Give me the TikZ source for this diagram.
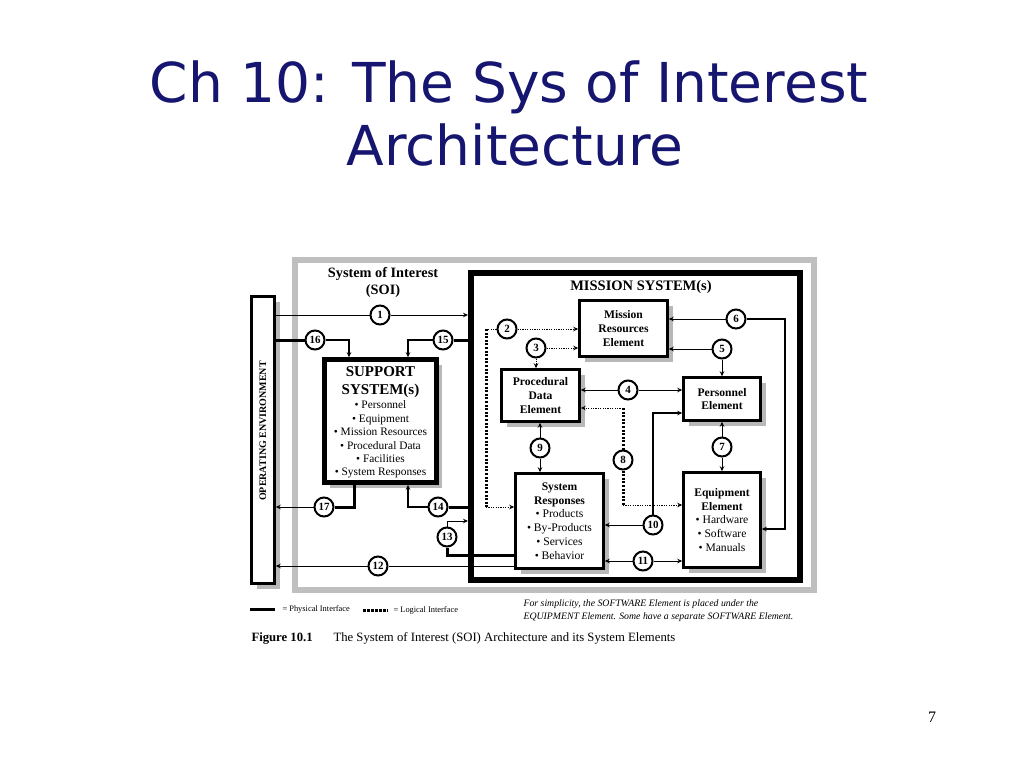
\documentclass[tikz,border=0pt]{standalone}
\usepackage{fontspec}
\setmainfont{Liberation Serif}
\newfontfamily\titlefont{DejaVu Sans}
\usetikzlibrary{arrows.meta,shadows}
\definecolor{navy}{RGB}{22,22,112}

\tikzset{
  elem/.style={draw, line width=2.5pt, fill=white, align=center, inner sep=0pt,
    font=\fontsize{11.6}{13.7}\selectfont,
    drop shadow={shadow xshift=5pt, shadow yshift=-5pt, fill=black!28, opacity=1}},
  num/.style={circle, draw, line width=2pt, fill=white, inner sep=0pt,
    minimum size=19pt, font=\fontsize{11}{12}\selectfont\bfseries},
  conn/.style={line width=0.9pt},
  medium/.style={line width=2.3pt},
  phys/.style={line width=3pt},
  logic/.style={line width=1pt, dash pattern=on 1.2pt off 1.2pt},
  logicheavy/.style={line width=3pt, dash pattern=on 2pt off 1.6pt},
}

\begin{document}
\begin{tikzpicture}[x=1pt, y=-1pt, >={Stealth[length=5pt,width=4.5pt]}]
\useasboundingbox[fill=white] (0,0) rectangle (1024,768);

% title
\node[anchor=base, text=navy, font=\titlefont\fontsize{55}{60}\selectfont] at (509,102) {Ch 10: The Sys of Interest};
\node[anchor=base, text=navy, font=\titlefont\fontsize{55}{60}\selectfont] at (515,165) {Architecture};

% frames
\draw[black!25, line width=6pt] (295,260) rectangle (814,590);
\node[elem, minimum width=23pt, minimum height=287pt] (oe) at (263,440) {};
\node[rotate=90, font=\fontsize{10}{12}\selectfont\bfseries] at (263,431) {OPERATING ENVIRONMENT};
\node[draw, line width=6pt, inner sep=0pt, minimum width=329pt, minimum height=307pt] (mission) at (635.5,426.5) {};
\node[font=\fontsize{14.5}{16}\selectfont\bfseries] at (641,287) {MISSION SYSTEM(s)};
\node[align=center, font=\fontsize{14.3}{17}\selectfont\bfseries] at (383,282) {System of Interest\\(SOI)};

% boxes
\node[elem, line width=4.5pt, minimum width=112pt, minimum height=123pt] (support) at (380.5,421) {};
\node[align=center, font=\fontsize{11.4}{13.4}\selectfont] (supporttext) at (380.5,422.5)
  {{\fontsize{15}{15}\selectfont\bfseries SUPPORT}\\[4.3pt]{\fontsize{15}{15}\selectfont\bfseries SYSTEM(s)}\\[1.3pt]
   \textbullet\ Personnel\\\textbullet\ Equipment\\\textbullet\ Mission Resources\\\textbullet\ Procedural Data\\
   \textbullet\ Facilities\\\textbullet\ System Responses};
\node[elem, minimum width=88pt, minimum height=56pt] (mres) at (623.5,328.5) {\bfseries Mission\\\bfseries Resources\\\bfseries Element};
\node[elem, minimum width=78pt, minimum height=52pt] (proc) at (540.5,395.5) {\bfseries Procedural\\\bfseries Data\\\bfseries Element};
\node[elem, minimum width=77pt, minimum height=43pt] (pers) at (722,399) {\bfseries Personnel\\\bfseries Element};
\node[elem, minimum width=88pt, minimum height=95pt] (resp) at (559.5,521)
  {\bfseries System\\\bfseries Responses\\\textbullet\ Products\\\textbullet\ By-Products\\\textbullet\ Services\\\textbullet\ Behavior};
\node[elem, minimum width=77pt, minimum height=95pt] (equip) at (722,520)
  {\bfseries Equipment\\\bfseries Element\\\textbullet\ Hardware\\\textbullet\ Software\\\textbullet\ Manuals};

% numbered interfaces
\foreach \i/\x/\y in {1/380/315, 16/315/340, 15/443/340, 17/324/507, 14/438/507, 13/447/537, 12/378/566,
  2/507/329, 3/536/348, 4/628/390, 5/722/349, 6/736/319, 7/722/447, 8/623/460, 9/540/448, 10/653/525, 11/643/561}
{
    \node[num] (n\i) at (\x,\y) {\i};
}
\coordinate (c2a) at (486,329);
\coordinate (c2b) at (486,507);
\coordinate (c6) at (785,319);
\coordinate (c8a) at (623,408);
\coordinate (c8b) at (623,505);

% SOI level
\draw[conn,->] (oe.east |- n1) -- (n1) -- (mission.west |- n1);
\draw[phys] (oe.east |- n16) -- (n16);
\draw[medium,->] (n16) -| (349,0 |- support.north);
\draw[phys] (mission.west |- n15) -- (n15);
\draw[medium,->] (n15) -| (408,0 |- support.north);
\draw[phys] (354,0 |- support.south) |- (n17);
\draw[conn,->] (n17) -- (oe.east |- n17);
\draw[phys] (mission.west |- n14) -- (n14);
\draw[medium,->] (n14) -| (408,0 |- support.south);
\draw[conn,->] (n13) |- (mission.west |- 0,521);
\draw[phys] (n13) |- (resp.west |- 0,555);
\draw[conn,->] (resp.west |- n12) -- (n12) -- (oe.east |- n12);

% mission level
\draw[logic,->] (n2) -- (mres.west |- n2);
\draw[logic] (n2) -- (c2a);
\draw[logicheavy] (c2a) -- (c2b);
\draw[logic,->] (c2b) -- (resp.west |- c2b);
\draw[logic,->] (n3) -- (mres.west |- n3);
\draw[logic,->] (n3) -- (proc.north -| n3);
\draw[conn,->] (n4) -- (proc.east |- n4);
\draw[conn,->] (n4) -- (pers.west |- n4);
\draw[conn,->] (n5) -- (mres.east |- n5);
\draw[conn,->] (n5) -- (pers.north -| n5);
\draw[conn,->] (n6) -- (mres.east |- n6);
\draw[medium,->] (n6) -- (c6) |- (equip.east |- 0,529);
\draw[conn,->] (n7) -- (pers.south -| n7);
\draw[conn,->] (n7) -- (equip.north -| n7);
\draw[logic,->] (c8a) -- (proc.east |- c8a);
\draw[logicheavy] (c8a) -- (n8) -- (c8b);
\draw[logic,->] (c8b) -- (equip.west |- c8b);
\draw[conn,->] (n9) -- (proc.south -| n9);
\draw[conn,->] (n9) -- (resp.north -| n9);
\draw[conn,->] (n10) -- (resp.east |- n10);
\draw[medium,->] (n10) |- (pers.west |- 0,413);
\draw[conn,->] (n11) -- (resp.east |- n11);
\draw[conn,->] (n11) -- (equip.west |- n11);

% legend and caption
\draw[phys] (250,609) -- (275,609);
\node[anchor=west, font=\fontsize{8.4}{10}\selectfont] at (279,609) {= Physical Interface};
\draw[line width=3pt, dash pattern=on 2.5pt off 1.5pt] (363,610) -- (388,610);
\node[anchor=west, font=\fontsize{8.4}{10}\selectfont] at (390,610) {= Logical Interface};
\node[anchor=west, align=left, font=\fontsize{9.8}{13}\selectfont\itshape] at (520,611)
  {For simplicity, the SOFTWARE Element is placed under the\\EQUIPMENT Element. Some have a separate SOFTWARE Element.};
\node[anchor=base west, font=\fontsize{12.7}{14}\selectfont\bfseries] at (248,641) {Figure 10.1};
\node[anchor=base west, font=\fontsize{12.7}{14}\selectfont] at (330,641) {The System of Interest (SOI) Architecture and its System Elements};
\node[font=\fontsize{16}{18}\selectfont] at (932,717) {7};
\end{tikzpicture}
\end{document}
